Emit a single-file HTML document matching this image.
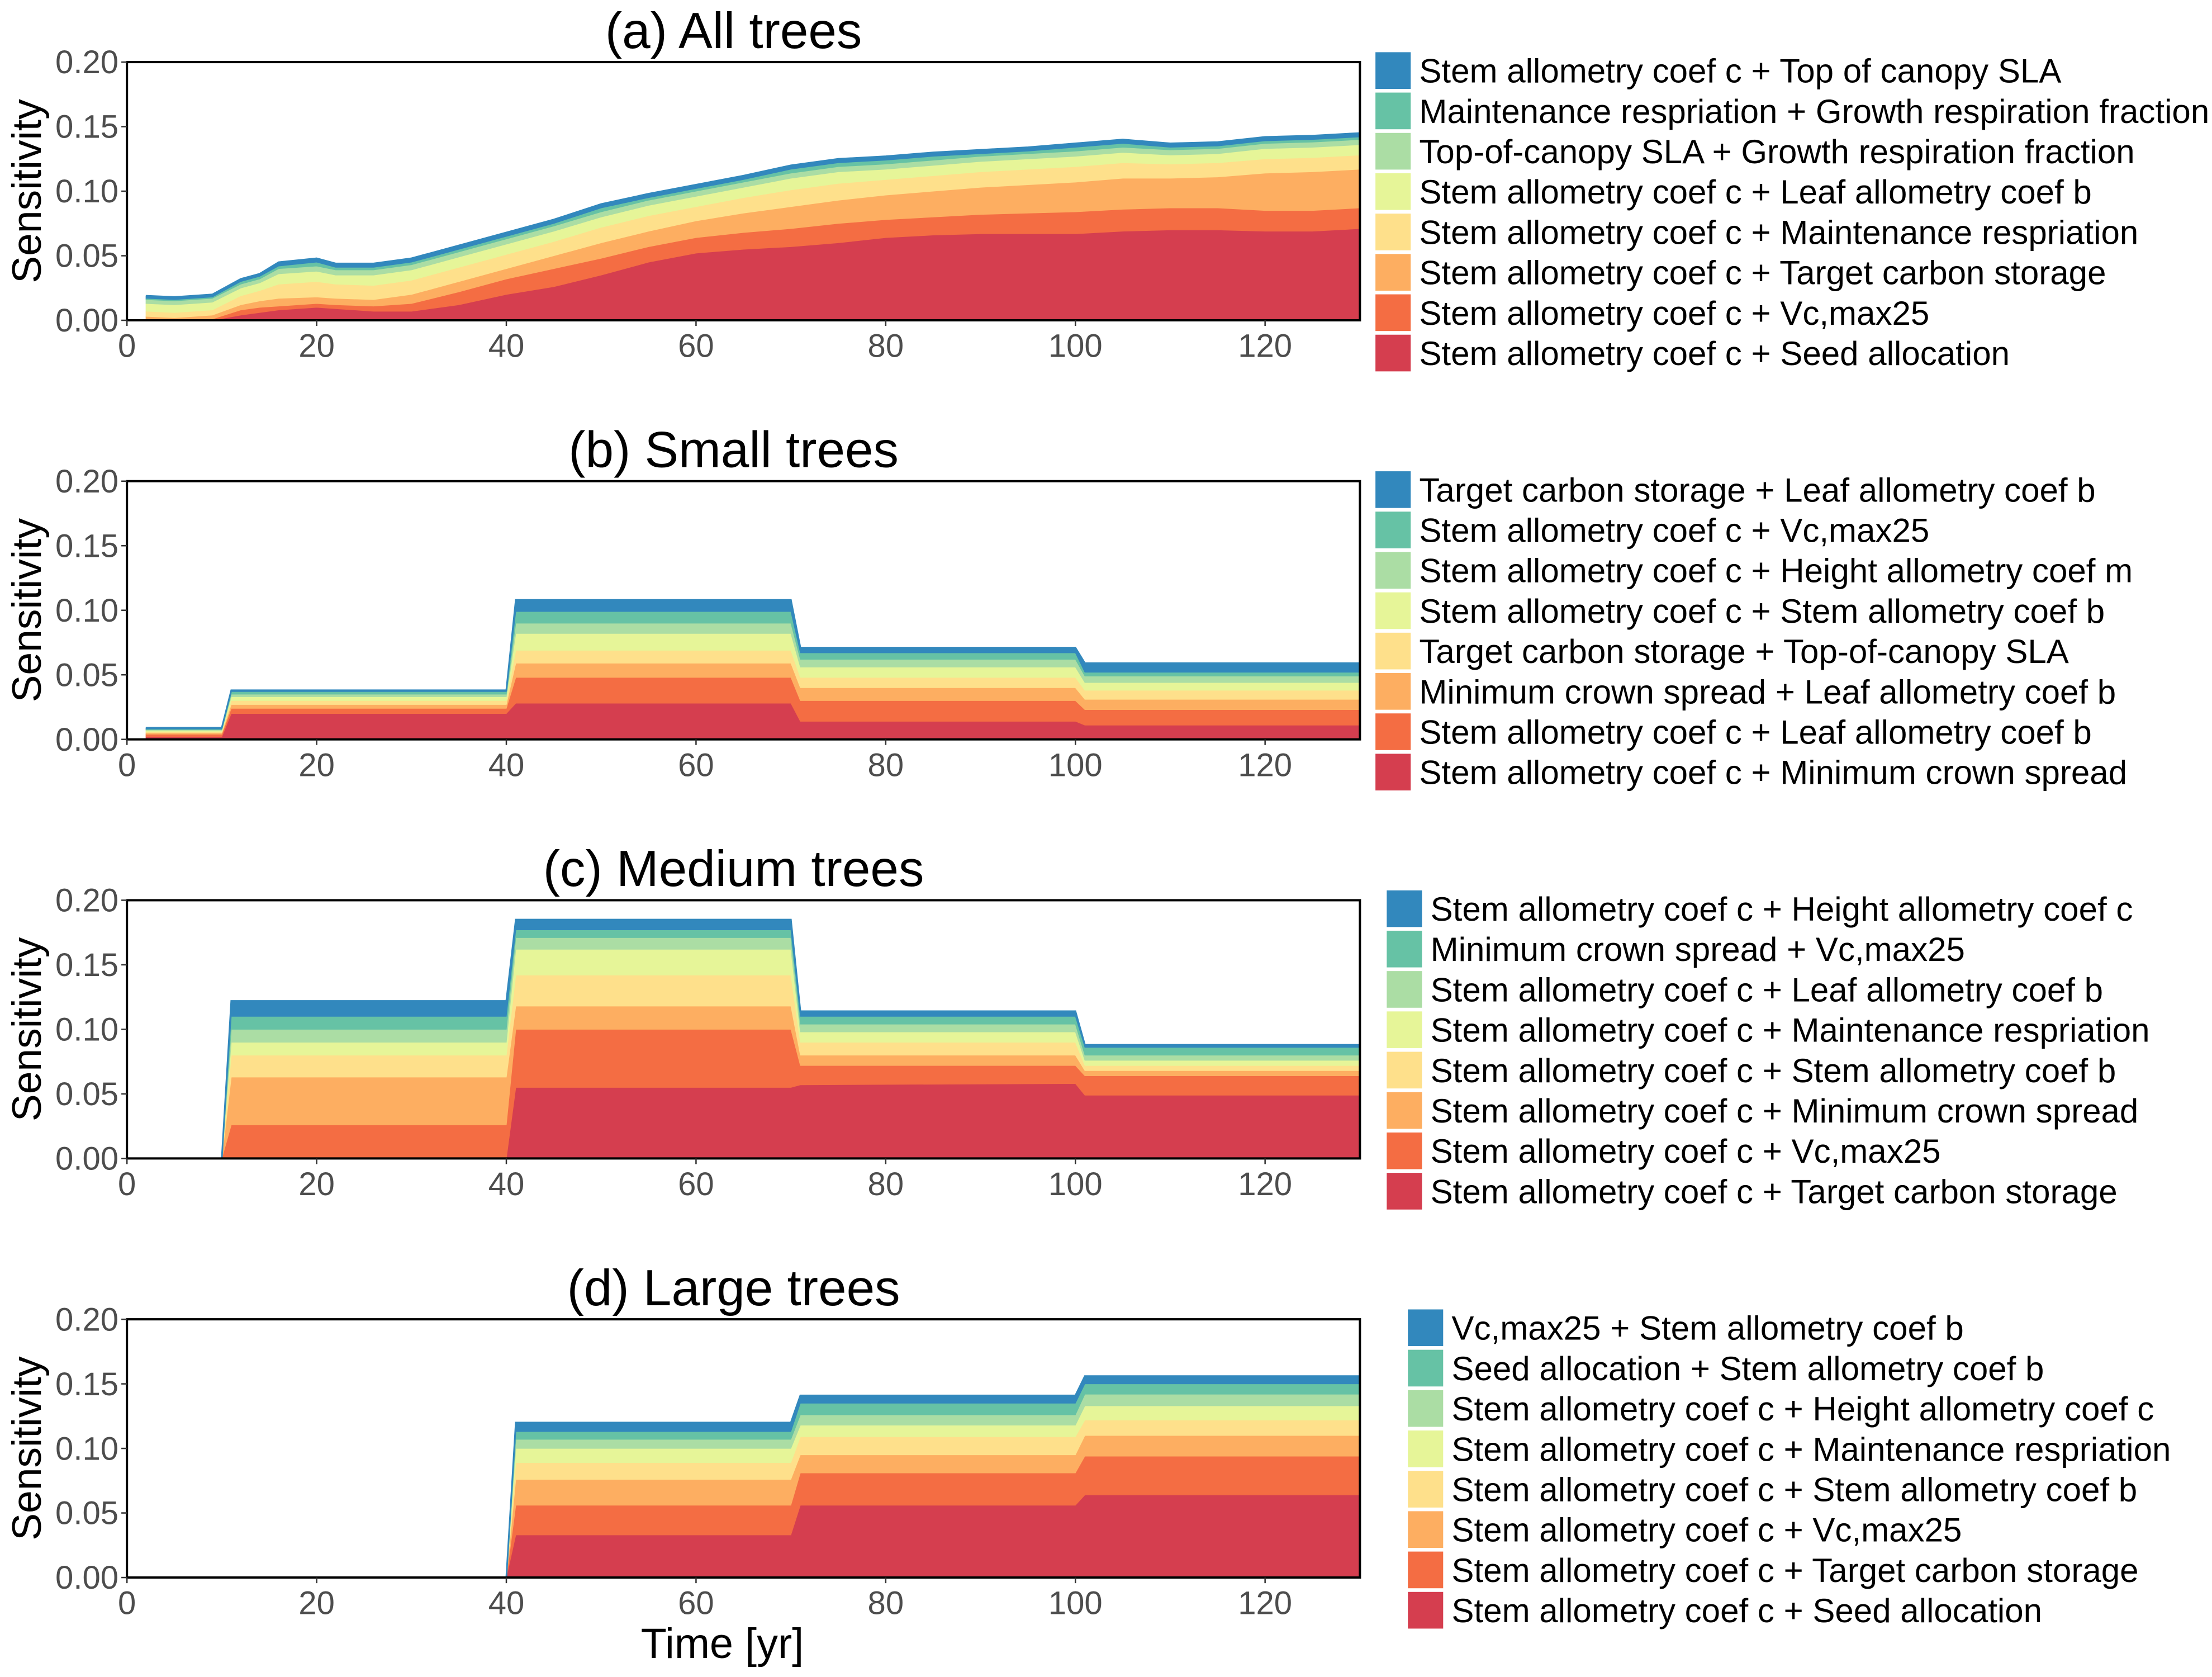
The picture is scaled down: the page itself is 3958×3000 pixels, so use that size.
<!DOCTYPE html>
<html><head><meta charset="utf-8"><style>
html,body{margin:0;padding:0;background:#fff;}
svg{display:block;font-family:"Liberation Sans",Arial,sans-serif;}
</style></head><body>
<svg id="chart" width="3958" height="3000" viewBox="0 0 1568 1188.5" preserveAspectRatio="none" xmlns="http://www.w3.org/2000/svg"></svg>
<script>
const colors = ["#D53E4F","#F46D43","#FDAE61","#FEE08B","#E6F598","#ABDDA4","#66C2A5","#3288BD"];
const xTicks = [0,20,40,60,80,100,120];
const yTicks = [0,0.05,0.10,0.15,0.20];
const yTickLabels = ["0.00","0.05","0.10","0.15","0.20"];

// Panel (a) data
const timesA = [2,5,7,9,12,14,16,20,22,26,30,35,40,45,50,55,60,65,70,75,80,85,90,95,100,105,110,115,120,125,130];
const aSeed = [0,0,0,0,0.004,0.006,0.008,0.010,0.009,0.007,0.007,0.012,0.020,0.026,0.035,0.045,0.052,0.055,0.057,0.060,0.064,0.066,0.067,0.067,0.067,0.069,0.070,0.070,0.069,0.069,0.071];
const aVc = [0,0,0,0.001,0.004,0.004,0.003,0.003,0.003,0.004,0.006,0.010,0.012,0.014,0.013,0.012,0.012,0.013,0.014,0.015,0.014,0.014,0.015,0.016,0.017,0.017,0.017,0.017,0.016,0.016,0.016];
const aStorage = [0.003,0.002,0.003,0.003,0.004,0.005,0.006,0.005,0.005,0.005,0.007,0.008,0.008,0.010,0.012,0.012,0.013,0.015,0.017,0.018,0.019,0.020,0.021,0.022,0.023,0.024,0.023,0.024,0.029,0.030,0.030];
const aMaint = [0.004,0.004,0.004,0.004,0.007,0.008,0.011,0.012,0.011,0.011,0.011,0.011,0.011,0.011,0.012,0.012,0.011,0.012,0.013,0.013,0.012,0.012,0.012,0.012,0.012,0.012,0.011,0.011,0.011,0.011,0.011];
const aLeafB = [0.006,0.006,0.006,0.006,0.006,0.006,0.008,0.008,0.007,0.008,0.008,0.008,0.008,0.008,0.008,0.008,0.008,0.008,0.009,0.009,0.008,0.008,0.008,0.008,0.008,0.008,0.007,0.007,0.008,0.008,0.008];
const aSlaGr = [0.003,0.003,0.003,0.003,0.003,0.003,0.004,0.004,0.004,0.004,0.004,0.004,0.004,0.004,0.004,0.004,0.004,0.004,0.004,0.004,0.004,0.004,0.004,0.004,0.004,0.004,0.004,0.004,0.004,0.004,0.004];
const aMaintGr = [0.001,0.001,0.001,0.001,0.002,0.002,0.002,0.003,0.002,0.002,0.002,0.002,0.002,0.002,0.003,0.002,0.002,0.002,0.003,0.003,0.003,0.003,0.002,0.002,0.003,0.003,0.002,0.002,0.002,0.002,0.002];
const aTopSla = [0.002,0.002,0.002,0.002,0.002,0.002,0.003,0.003,0.003,0.003,0.003,0.003,0.003,0.003,0.003,0.003,0.003,0.003,0.003,0.003,0.003,0.003,0.003,0.003,0.003,0.003,0.003,0.003,0.003,0.003,0.003];

// Panel (b) data
const timesB = [2,10,11,40,41,70,71,100,101,130];
const b1 = [0.002,0.002,0.020,0.020,0.028,0.028,0.014,0.014,0.011,0.011];
const b2 = [0.002,0.002,0.004,0.004,0.020,0.020,0.016,0.016,0.012,0.012];
const b3 = [0.001,0.001,0.003,0.003,0.011,0.011,0.010,0.010,0.008,0.008];
const b4 = [0.001,0.001,0.003,0.003,0.010,0.010,0.008,0.008,0.007,0.007];
const b5 = [0.001,0.001,0.003,0.003,0.013,0.013,0.008,0.008,0.006,0.006];
const b6 = [0.0005,0.0005,0.002,0.002,0.008,0.008,0.006,0.006,0.005,0.005];
const b7 = [0.0005,0.0005,0.002,0.002,0.009,0.009,0.005,0.005,0.003,0.003];
const b8 = [0.001,0.001,0.001,0.001,0.009,0.009,0.004,0.004,0.007,0.007];

// Panel (c) data
const timesC = [0,10,11,40,41,70,71,100,101,130];
const c1 = [0,0,0,0,0.055,0.055,0.057,0.058,0.049,0.049];
const c2 = [0,0,0.026,0.026,0.045,0.045,0.015,0.014,0.015,0.015];
const c3 = [0,0,0.037,0.037,0.018,0.018,0.008,0.008,0.004,0.004];
const c4 = [0,0,0.017,0.017,0.024,0.024,0.010,0.010,0.004,0.004];
const c5 = [0,0,0.010,0.010,0.020,0.020,0.008,0.008,0.004,0.004];
const c6 = [0,0,0.010,0.010,0.009,0.009,0.006,0.006,0.004,0.004];
const c7 = [0,0,0.010,0.010,0.006,0.006,0.006,0.006,0.006,0.006];
const c8 = [0,0,0.012,0.012,0.008,0.008,0.004,0.004,0.002,0.002];

// Panel (d) data
const timesD = [0,40,41,70,71,100,101,130];
const d1 = [0,0,0.033,0.033,0.056,0.056,0.064,0.064];
const d2 = [0,0,0.023,0.023,0.025,0.025,0.030,0.030];
const d3 = [0,0,0.020,0.020,0.014,0.014,0.016,0.016];
const d4 = [0,0,0.013,0.013,0.014,0.014,0.012,0.012];
const d5 = [0,0,0.011,0.011,0.009,0.009,0.011,0.011];
const d6 = [0,0,0.007,0.007,0.008,0.008,0.009,0.009];
const d7 = [0,0,0.006,0.006,0.009,0.009,0.008,0.008];
const d8 = [0,0,0.007,0.007,0.006,0.006,0.006,0.006];

const labelsA = ["Stem allometry coef c + Top of canopy SLA","Maintenance respriation + Growth respiration fraction","Top-of-canopy SLA + Growth respiration fraction","Stem allometry coef c + Leaf allometry coef b","Stem allometry coef c + Maintenance respriation","Stem allometry coef c + Target carbon storage","Stem allometry coef c + Vc,max25","Stem allometry coef c + Seed allocation"];
const labelsB = ["Target carbon storage + Leaf allometry coef b","Stem allometry coef c + Vc,max25","Stem allometry coef c + Height allometry coef m","Stem allometry coef c + Stem allometry coef b","Target carbon storage + Top-of-canopy SLA","Minimum crown spread + Leaf allometry coef b","Stem allometry coef c + Leaf allometry coef b","Stem allometry coef c + Minimum crown spread"];
const labelsC = ["Stem allometry coef c + Height allometry coef c","Minimum crown spread + Vc,max25","Stem allometry coef c + Leaf allometry coef b","Stem allometry coef c + Maintenance respriation","Stem allometry coef c + Stem allometry coef b","Stem allometry coef c + Minimum crown spread","Stem allometry coef c + Vc,max25","Stem allometry coef c + Target carbon storage"];
const labelsD = ["Vc,max25 + Stem allometry coef b","Seed allocation + Stem allometry coef b","Stem allometry coef c + Height allometry coef c","Stem allometry coef c + Maintenance respriation","Stem allometry coef c + Stem allometry coef b","Stem allometry coef c + Vc,max25","Stem allometry coef c + Target carbon storage","Stem allometry coef c + Seed allocation"];

const NS = "http://www.w3.org/2000/svg";
const svg = document.getElementById('chart');
function mk(tag, attrs, parent){const e=document.createElementNS(NS,tag);for(const k in attrs)e.setAttribute(k,attrs[k]);(parent||svg).appendChild(e);return e;}

const panels = [
 {key:'a',title:"(a) All trees",top:44,times:timesA,layers:[aSeed,aVc,aStorage,aMaint,aLeafB,aSlaGr,aMaintGr,aTopSla],labels:labelsA,lx:975},
 {key:'b',title:"(b) Small trees",top:341,times:timesB,layers:[b1,b2,b3,b4,b5,b6,b7,b8],labels:labelsB,lx:975},
 {key:'c',title:"(c) Medium trees",top:638,times:timesC,layers:[c1,c2,c3,c4,c5,c6,c7,c8],labels:labelsC,lx:983},
 {key:'d',title:"(d) Large trees",top:935,times:timesD,layers:[d1,d2,d3,d4,d5,d6,d7,d8],labels:labelsD,lx:998}
];
const L=90,R=964,H=183;
panels.forEach(p=>{
  const g=mk('g',{});
  
  
  const bottom=p.top+H;
  const xs=t=>L+(t/130)*(R-L);
  const ys=v=>bottom-(v/0.2)*H;
  const n=p.times.length;
  let base=new Array(n).fill(0);
  p.layers.forEach((lay,li)=>{
    const top=lay.map((v,i)=>base[i]+v);
    let d='M'+p.times.map((t,i)=>xs(t)+','+ys(top[i])).join(' L');
    for(let i=n-1;i>=0;i--) d+=' L'+xs(p.times[i])+','+ys(base[i]);
    d+=' Z';
    const path=mk('path',{d:d,fill:colors[li],stroke:colors[li],'stroke-width':0.4},g);
    
    
    if(li===p.layers.length-1){
      const ln=mk('path',{d:'M'+p.times.map((t,i)=>xs(t)+','+ys(top[i])).join(' L'),fill:'none',stroke:colors[li],'stroke-width':1.2},g);
      
      
    }
    base=top;
  });
  const box=mk('rect',{x:L,y:p.top,width:R-L,height:H,fill:'none',stroke:'#000','stroke-width':1.6},g);
  
  
  yTicks.forEach((v,i)=>{
    mk('line',{x1:L-4,x2:L,y1:ys(v),y2:ys(v),stroke:'#333','stroke-width':1},g);
    const t=mk('text',{x:L-6,y:ys(v)+8,'text-anchor':'end','font-size':23,fill:'#4d4d4d'},g);
    t.textContent=yTickLabels[i];
    
    
  });
  xTicks.forEach(v=>{
    mk('line',{x1:xs(v),x2:xs(v),y1:bottom,y2:bottom+4,stroke:'#333','stroke-width':1},g);
    const t=mk('text',{x:xs(v),y:bottom+26,'text-anchor':'middle','font-size':23,fill:'#4d4d4d'},g);
    t.textContent=v;
    
    
  });
  const yt=mk('text',{x:0,y:0,transform:'translate(29,'+(p.top+H/2)+') rotate(-90)','text-anchor':'middle','font-size':29,fill:'#000'},g);
  yt.textContent='Sensitivity';
  
  
  const tt=mk('text',{x:520,y:p.top-10,'text-anchor':'middle','font-size':36,fill:'#000'},g);
  tt.textContent=p.title;
  
  
  p.labels.forEach((lab,i)=>{
    const cy=p.top+6+i*28.6;
    const sw=mk('rect',{x:p.lx,y:cy-13,width:25,height:26,fill:colors[7-i]},g);
    
    
    const lt=mk('text',{x:p.lx+31,y:cy+8.5,'font-size':23.8,fill:'#000'},g);
    lt.textContent=lab;
    
    
  });
});
const xt=mk('text',{x:512,y:1175,'text-anchor':'middle','font-size':30,fill:'#000'});
xt.textContent='Time [yr]';


</script>
</body></html>
